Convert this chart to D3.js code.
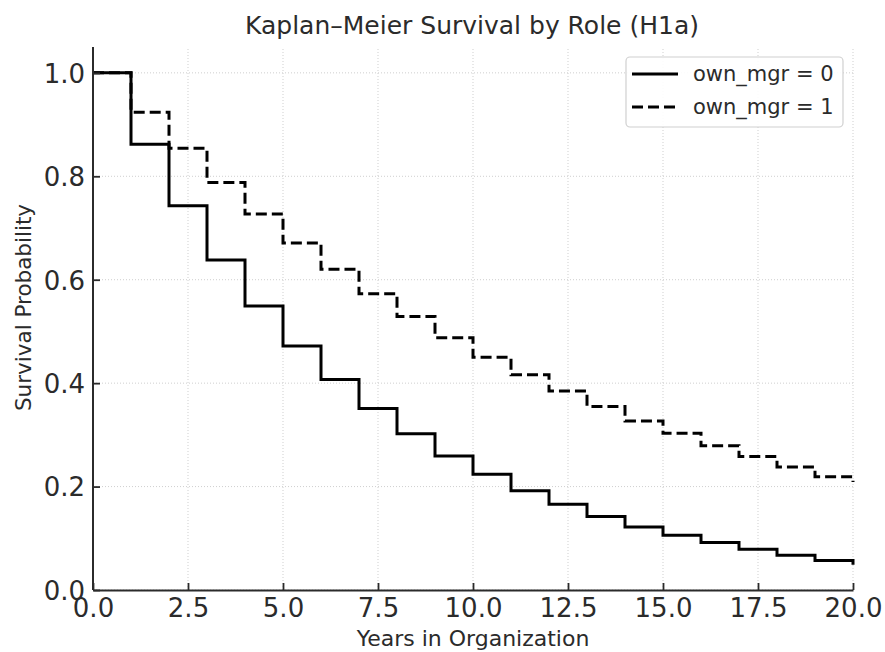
<!DOCTYPE html>
<html>
<head>
<meta charset="utf-8">
<script src="https://cdn.jsdelivr.net/npm/d3@7"></script>
<style>
  html, body { margin: 0; padding: 0; background: #fff; }
  svg { display: block; font-family: "DejaVu Sans", sans-serif; }
</style>
</head>
<body>
<svg id="chart" width="885" height="652"></svg>
<script>
const title = "Kaplan–Meier Survival by Role (H1a)";
const xLabel = "Years in Organization";
const yLabel = "Survival Probability";
const years = [0,1,2,3,4,5,6,7,8,9,10,11,12,13,14,15,16,17,18,19,20];
const survMgr0 = [1.0,0.862,0.743,0.638,0.549,0.472,0.407,0.351,0.302,0.259,0.224,0.192,0.166,0.142,0.122,0.106,0.092,0.079,0.067,0.057,0.049];
const survMgr1 = [1.0,0.924,0.854,0.788,0.727,0.671,0.620,0.573,0.529,0.488,0.450,0.416,0.385,0.355,0.327,0.303,0.279,0.258,0.238,0.219,0.209];
const seriesNames = ["own_mgr = 0", "own_mgr = 1"];
const xTicks = [0,2.5,5,7.5,10,12.5,15,17.5,20];
const yTicks = [0,0.2,0.4,0.6,0.8,1.0];

const svg = d3.select("#chart");
const textColor = "#2b2b2b";
const x = d3.scaleLinear().domain([0,20]).range([93,853]);
const y = d3.scaleLinear().domain([0,1.05]).range([590,47]);

// grid
const grid = svg.append("g");
grid.selectAll("line.vx").data(xTicks).join("line")
  .attr("x1", d=>x(d)).attr("x2", d=>x(d)).attr("y1", y(0)).attr("y2", y(1.05))
  .attr("stroke","#cfcfcf").attr("stroke-width",1).attr("stroke-dasharray","1,2");
grid.selectAll("line.hy").data(yTicks).join("line")
  .attr("x1", x(0)).attr("x2", x(20)).attr("y1", d=>y(d)).attr("y2", d=>y(d))
  .attr("stroke","#cfcfcf").attr("stroke-width",1).attr("stroke-dasharray","1,2");

// lines
const line = d3.line().x(d=>x(d[0])).y(d=>y(d[1])).curve(d3.curveStepAfter);
svg.append("path").datum(years.map((t,i)=>[t,survMgr0[i]]))
  .attr("d", line).attr("fill","none").attr("stroke","#000").attr("stroke-width",3);
svg.append("path").datum(years.map((t,i)=>[t,survMgr1[i]]))
  .attr("d", line).attr("fill","none").attr("stroke","#000").attr("stroke-width",3)
  .attr("stroke-dasharray","11,5");

// axes
const xAxis = d3.axisBottom(x).tickValues(xTicks).tickFormat(d3.format(".1f")).tickSizeInner(-7).tickSizeOuter(0).tickPadding(10);
const gx = svg.append("g").attr("transform", `translate(0,${y(0)})`).call(xAxis);
const yAxis = d3.axisLeft(y).tickValues(yTicks).tickFormat(d3.format(".1f")).tickSizeInner(-7).tickSizeOuter(0).tickPadding(9);
const gy = svg.append("g").attr("transform", `translate(${x(0)},0)`).call(yAxis);
[gx, gy].forEach(g => {
  g.select(".domain").attr("stroke", textColor).attr("stroke-width",2);
  g.selectAll(".tick line").attr("stroke", textColor).attr("stroke-width",1.8);
  g.selectAll(".tick text").attr("fill", textColor).style("font-size","26px").style("font-family","DejaVu Sans");
});
gy.select(".domain").attr("d", `M0,${y(1.05)}V${y(0)}`);
gx.selectAll(".tick text").attr("dy", null).attr("y", 27);
gy.selectAll(".tick text").attr("x", -8).attr("dy", "0.36em");

// title and labels
svg.append("text").attr("x", 472).attr("y", 34).attr("text-anchor","middle")
  .attr("fill", textColor).style("font-size","25px").text(title);
svg.append("text").attr("x", 473).attr("y", 646).attr("text-anchor","middle")
  .attr("fill", textColor).style("font-size","22px").text(xLabel);
svg.append("text").attr("transform","translate(31,307.5) rotate(-90)").attr("text-anchor","middle")
  .attr("fill", textColor).style("font-size","21.5px").text(yLabel);

// legend
const lg = svg.append("g");
lg.append("rect").attr("x",626).attr("y",57).attr("width",217).attr("height",70).attr("rx",4)
  .attr("fill","#fff").attr("fill-opacity",0.9).attr("stroke","#d0d0d0").attr("stroke-width",1.2);
const legendY = [74, 107];
const dashes = [null, "11,5"];
seriesNames.forEach((name,i)=>{
  lg.append("line").attr("x1",632).attr("x2",678).attr("y1",legendY[i]).attr("y2",legendY[i])
    .attr("stroke","#000").attr("stroke-width",3).attr("stroke-dasharray",dashes[i]);
  lg.append("text").attr("x",693).attr("y",legendY[i]).attr("dy","0.35em")
    .attr("fill",textColor).style("font-size","21px").text(name);
});
</script>
</body>
</html>
